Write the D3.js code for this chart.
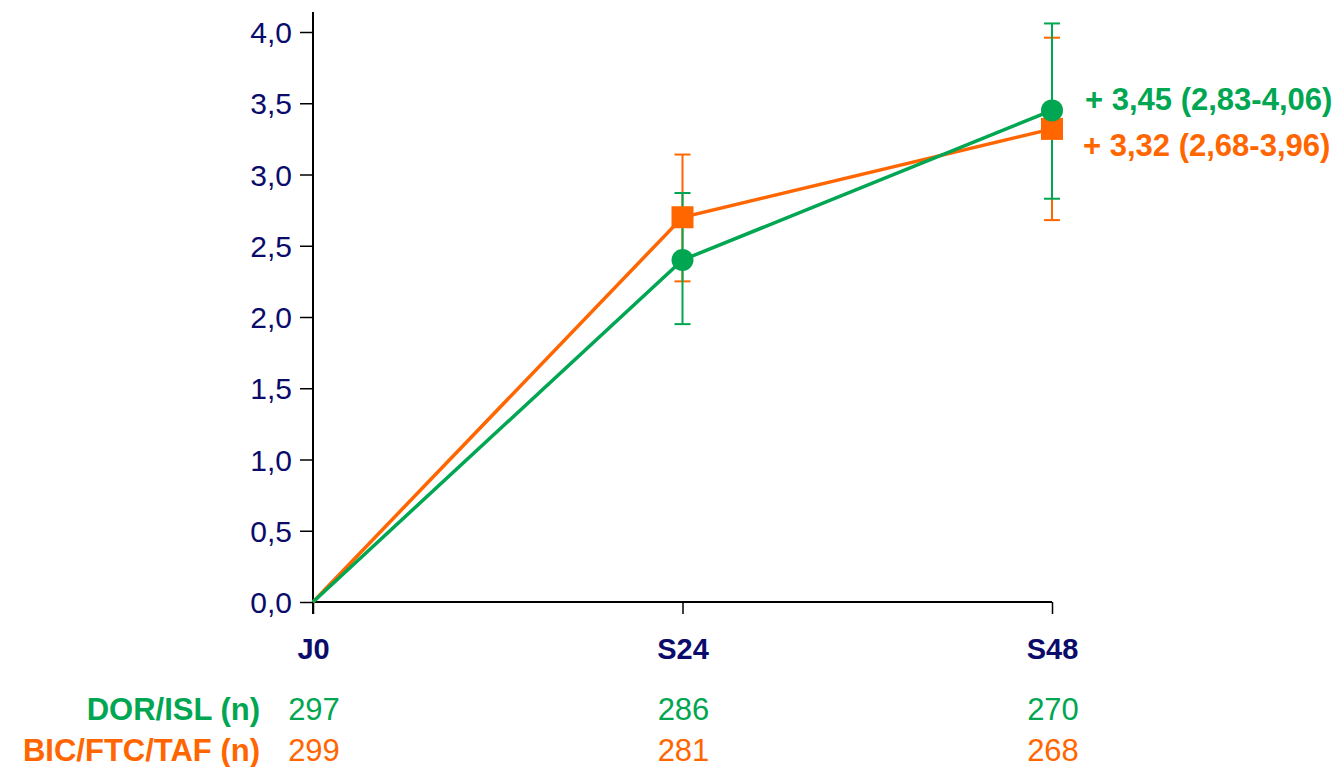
<!DOCTYPE html>
<html>
<head>
<meta charset="utf-8">
<script src="https://cdn.jsdelivr.net/npm/d3@7"></script>
<style>
  body { margin: 0; background: #fff; }
  svg { display: block; font-family: "Liberation Sans", Arial, sans-serif; }
</style>
</head>
<body>
<svg width="1342" height="767"></svg>
<script>
// Data
var timepoints = ['J0', 'S24', 'S48'];
var yTicks = [0, 0.5, 1, 1.5, 2, 2.5, 3, 3.5, 4];

var dorMean = [0, 2.40, 3.45];
var dorLow = [null, 1.95, 2.83];
var dorHigh = [null, 2.87, 4.06];
var dorN = [297, 286, 270];

var bicMean = [0, 2.70, 3.32];
var bicLow = [null, 2.25, 2.68];
var bicHigh = [null, 3.14, 3.96];
var bicN = [299, 281, 268];

var seriesNames = ['DOR/ISL (n)', 'BIC/FTC/TAF (n)'];
var endLabels = ['+ 3,45 (2,83-4,06)', '+ 3,32 (2,68-3,96)'];

var green = '#00a651';
var orange = '#ff6600';
var navy = '#0b0b6b';

var svg = d3.select('svg');

var x = d3.scalePoint()
    .domain(timepoints)
    .range([313, 1052]);

var y = d3.scaleLinear()
    .domain([0, 4])
    .range([602, 32]);

var fmt = function(v) { return d3.format('.1f')(v).replace('.', ','); };

// y axis
var yAxisG = svg.append('g')
    .attr('transform', 'translate(313,0)')
    .call(d3.axisLeft(y).tickValues(yTicks).tickSize(13).tickPadding(8).tickFormat(fmt));
yAxisG.select('.domain').remove();
yAxisG.selectAll('line').attr('stroke', '#000').attr('stroke-width', 1.5);
yAxisG.selectAll('text')
    .attr('fill', navy)
    .attr('dy', '0.35em')
    .style('font-size', '30px')
    .style('font-family', '"Liberation Sans", Arial, sans-serif');
svg.append('line')
    .attr('x1', 313).attr('x2', 313)
    .attr('y1', 12).attr('y2', 614)
    .attr('stroke', '#000').attr('stroke-width', 2);

// x axis
var xAxisG = svg.append('g')
    .attr('transform', 'translate(0,602)')
    .call(d3.axisBottom(x).tickSize(12).tickPadding(0));
xAxisG.select('.domain').remove();
xAxisG.selectAll('line').attr('stroke', '#000').attr('stroke-width', 1.5);
xAxisG.selectAll('text')
    .attr('y', 57)
    .attr('dy', 0)
    .attr('fill', navy)
    .style('font-size', '29px')
    .style('font-weight', 'bold')
    .style('font-family', '"Liberation Sans", Arial, sans-serif');
svg.append('line')
    .attr('x1', 313).attr('x2', 1052)
    .attr('y1', 602).attr('y2', 602)
    .attr('stroke', '#000').attr('stroke-width', 2);

var series = [
    {mean: bicMean, low: bicLow, high: bicHigh, color: orange, shape: 'square'},
    {mean: dorMean, low: dorLow, high: dorHigh, color: green, shape: 'circle'}
];

// error bars
series.forEach(function(s) {
    var g = svg.append('g');
    timepoints.forEach(function(t, i) {
        if (s.low[i] == null) return;
        var cx = x(t);
        g.append('line')
            .attr('x1', cx).attr('x2', cx)
            .attr('y1', y(s.low[i])).attr('y2', y(s.high[i]))
            .attr('stroke', s.color).attr('stroke-width', 2);
        [s.low[i], s.high[i]].forEach(function(v) {
            g.append('line')
                .attr('x1', cx - 8).attr('x2', cx + 8)
                .attr('y1', y(v)).attr('y2', y(v))
                .attr('stroke', s.color).attr('stroke-width', 2);
        });
    });
});

// lines
var line = d3.line()
    .x(function(d, i) { return x(timepoints[i]); })
    .y(function(d) { return y(d); });

series.forEach(function(s) {
    svg.append('path')
        .datum(s.mean)
        .attr('d', line)
        .attr('fill', 'none')
        .attr('stroke', s.color)
        .attr('stroke-width', 3.5);
});

// markers (not at J0)
series.forEach(function(s) {
    var pts = s.mean.slice(1).map(function(v, i) { return {t: timepoints[i + 1], v: v}; });
    if (s.shape === 'circle') {
        svg.selectAll(null).data(pts).enter().append('circle')
            .attr('cx', function(d) { return x(d.t); })
            .attr('cy', function(d) { return y(d.v); })
            .attr('r', 11)
            .attr('fill', s.color);
    } else {
        svg.selectAll(null).data(pts).enter().append('rect')
            .attr('x', function(d) { return x(d.t) - 11; })
            .attr('y', function(d) { return y(d.v) - 11; })
            .attr('width', 22).attr('height', 22)
            .attr('fill', s.color);
    }
});

// end labels
svg.append('text')
    .attr('x', 1085).attr('y', 110)
    .attr('fill', green)
    .style('font-size', '31px').style('font-weight', 'bold')
    .text(endLabels[0]);
svg.append('text')
    .attr('x', 1083).attr('y', 156)
    .attr('fill', orange)
    .style('font-size', '31px').style('font-weight', 'bold')
    .text(endLabels[1]);

// n table
var rows = [
    {name: seriesNames[0], n: dorN, color: green, yPos: 720},
    {name: seriesNames[1], n: bicN, color: orange, yPos: 761}
];
rows.forEach(function(r) {
    svg.append('text')
        .attr('x', 260).attr('y', r.yPos)
        .attr('text-anchor', 'end')
        .attr('fill', r.color)
        .style('font-size', '31px').style('font-weight', 'bold')
        .text(r.name);
    svg.selectAll(null).data(r.n).enter().append('text')
        .attr('x', function(d, i) { return x(timepoints[i]) + 1; })
        .attr('y', r.yPos)
        .attr('text-anchor', 'middle')
        .attr('fill', r.color)
        .style('font-size', '31px')
        .text(function(d) { return d; });
});
</script>
</body>
</html>
